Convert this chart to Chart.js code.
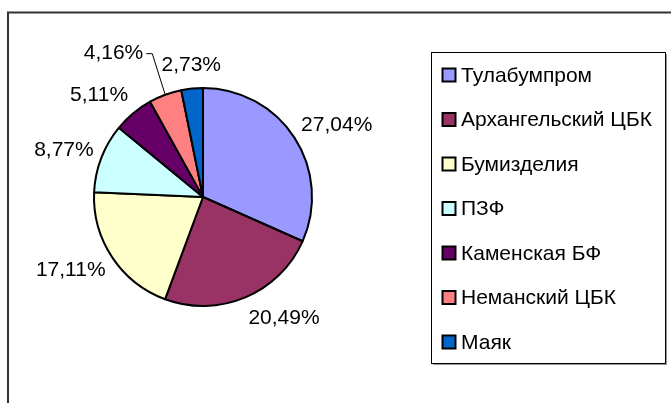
<!DOCTYPE html>
<html>
<head>
<meta charset="utf-8">
<script src="https://cdn.jsdelivr.net/npm/chart.js@4/dist/chart.umd.min.js"></script>
<style>
  html, body { margin: 0; padding: 0; background: #fff; }
  #wrap { position: relative; width: 671px; height: 403px; }
</style>
</head>
<body>
<div id="wrap"><canvas id="c" width="671" height="403"></canvas></div>
<script>
const categories = ['Тулабумпром', 'Архангельский ЦБК', 'Бумизделия', 'ПЗФ', 'Каменская БФ', 'Неманский ЦБК', 'Маяк'];
const shares = [27.04, 20.49, 17.11, 8.77, 5.11, 4.16, 2.73];
const sliceColors = ['#9999FF', '#993366', '#FFFFCC', '#CCFFFF', '#660066', '#FF8080', '#0066CC'];

const FONT = '"Liberation Sans", Arial, sans-serif';
const fmt = v => v.toFixed(2).replace('.', ',') + '%';

const framePlugin = {
  id: 'frame',
  beforeDraw(chart) {
    const ctx = chart.ctx;
    ctx.save();
    ctx.fillStyle = '#fff';
    ctx.fillRect(0, 0, chart.width, chart.height);
    ctx.strokeStyle = '#333';
    ctx.lineWidth = 2;
    ctx.strokeRect(8, 12.5, chart.width + 20, chart.height + 20);
    ctx.restore();
  }
};

const pctLabels = {
  id: 'pctLabels',
  afterDatasetsDraw(chart, args, opts) {
    const ctx = chart.ctx;
    const meta = chart.getDatasetMeta(0);
    const values = chart.data.datasets[0].data;
    ctx.save();
    ctx.font = opts.font;
    ctx.fillStyle = '#000';
    ctx.textBaseline = 'middle';
    ctx.textAlign = 'center';
    const s = v => Math.sign(v) * Math.min(1, Math.max(0, (Math.abs(v) - 0.12) * 4));
    meta.data.forEach((arc, i) => {
      const p = arc.getProps(['x', 'y', 'startAngle', 'endAngle', 'outerRadius'], true);
      const mid = (p.startAngle + p.endAngle) / 2;
      const ux = Math.cos(mid), uy = Math.sin(mid);
      const text = fmt(values[i]);
      const w = ctx.measureText(text).width;
      const R = p.outerRadius + opts.gap;
      let cx = p.x + R * ux + (w / 2) * s(ux);
      let cy = p.y + R * uy + (opts.boxHeight / 2) * uy;
      const n = opts.nudge[i];
      if (n) {
        cx += n[0]; cy += n[1];
        ctx.save();
        ctx.strokeStyle = '#000';
        ctx.lineWidth = 1;
        ctx.beginPath();
        ctx.moveTo(cx + w / 2 + 3, cy + 0.5);
        ctx.lineTo(cx + w / 2 + 9, cy + 0.5);
        ctx.lineTo(p.x + p.outerRadius * ux, p.y + p.outerRadius * uy);
        ctx.stroke();
        ctx.restore();
      }
      ctx.fillText(text, cx, cy);
    });
    ctx.restore();
  }
};

const boxLegend = {
  id: 'boxLegend',
  afterDraw(chart, args, o) {
    const ctx = chart.ctx;
    const ds = chart.data.datasets[0];
    ctx.save();
    ctx.fillStyle = '#999';
    ctx.fillRect(o.x + 2, o.y + o.h, o.w, 2);
    ctx.fillRect(o.x + o.w, o.y + 2, 2, o.h);
    ctx.fillStyle = '#fff';
    ctx.fillRect(o.x, o.y, o.w, o.h);
    ctx.strokeStyle = '#000';
    ctx.lineWidth = 1;
    ctx.strokeRect(o.x + 0.5, o.y + 0.5, o.w, o.h);
    ctx.font = o.font;
    ctx.textBaseline = 'middle';
    ctx.textAlign = 'left';
    chart.data.labels.forEach((lab, i) => {
      const cy = o.firstY + i * o.step;
      ctx.fillStyle = ds.backgroundColor[i];
      ctx.fillRect(o.sqX, cy - o.sq / 2, o.sq, o.sq);
      ctx.strokeStyle = '#000';
      ctx.lineWidth = 2;
      ctx.strokeRect(o.sqX, cy - o.sq / 2, o.sq, o.sq);
      ctx.fillStyle = '#000';
      ctx.fillText(lab, o.textX, cy + 1);
    });
    ctx.restore();
  }
};

new Chart(document.getElementById('c'), {
  type: 'pie',
  data: {
    labels: categories,
    datasets: [{
      data: shares,
      backgroundColor: sliceColors,
      borderColor: '#000',
      borderWidth: 2
    }]
  },
  options: {
    responsive: false,
    animation: false,
    events: [],
    layout: { padding: { left: 93, right: 358, top: 87, bottom: 96 } },
    plugins: {
      legend: { display: false },
      tooltip: { enabled: false },
      pctLabels: { font: '21px ' + FONT, gap: 8, boxHeight: 30, nudge: { 5: [-22, -20] } },
      boxLegend: {
        x: 431, y: 52, w: 234, h: 311,
        sqX: 442.5, sq: 13, textX: 461, firstY: 75, step: 44.5,
        font: '21px ' + FONT
      }
    }
  },
  plugins: [framePlugin, pctLabels, boxLegend]
});
</script>
</body>
</html>
